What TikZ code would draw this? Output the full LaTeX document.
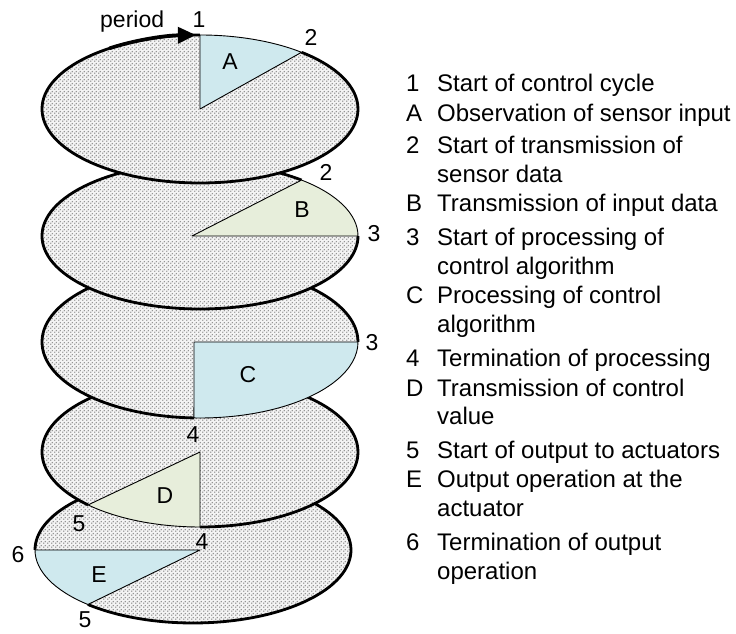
\documentclass[tikz,border=0pt]{standalone}
\usepackage{fontspec}
\setmainfont{Liberation Sans}
\usetikzlibrary{patterns,arrows.meta,calc}
\definecolor{phaseblue}{HTML}{CFE9EE}
\definecolor{phasegreen}{HTML}{E7EEDB}
% fine diagonal dot screen for the discs
\pgfdeclarepatternformonly{discdots}{\pgfpointorigin}{\pgfqpoint{3.5pt}{3.5pt}}{\pgfqpoint{3.5pt}{3.5pt}}{
  \pgfpathcircle{\pgfqpoint{0.875pt}{0.875pt}}{0.85pt}
  \pgfpathcircle{\pgfqpoint{2.625pt}{2.625pt}}{0.85pt}
  \pgfusepath{fill}}
\begin{document}
\begin{tikzpicture}[x=1pt,y=1pt,
  disc/.style={preaction={fill=gray!9}, pattern=discdots, pattern color=black!45},
  rim/.style={line width=2.8pt},
  phase/.style={draw=black, line width=0.9pt, line join=round},
  lbl/.style={font=\fontsize{23}{27}\selectfont, inner sep=0pt},
  keyid/.style={font=\fontsize{24}{29}\selectfont, inner sep=0pt, anchor=base west},
  keytext/.style={font=\fontsize{24}{29}\selectfont, inner sep=0pt, anchor=base west}]
\useasboundingbox (0,0) rectangle (736,634);

% ---- disc 5 (bottom): output operation E
\coordinate (c5) at (193,84);
\fill[disc] (c5) ellipse [x radius=158, y radius=73];
\draw[rim] (c5) ++(228.3:158 and 73) arc[start angle=228.3, end angle=540, x radius=158, y radius=73];
\coordinate (e4) at (200,84);
\coordinate (e6) at (35,84);
\draw[phase, fill=phaseblue] (e4) -- (e6) arc[start angle=180, end angle=228.3, x radius=158, y radius=73] -- cycle;

% ---- disc 4: transmission of control value D
\coordinate (c4) at (200,182);
\fill[disc] (c4) ellipse [x radius=158, y radius=75];
\draw[rim] (c4) ++(270:158 and 75) arc[start angle=270, end angle=584.9, x radius=158, y radius=75];
\coordinate (d4) at (200,182);
\coordinate (d4b) at (200,107);
\draw[phase, fill=phasegreen] (d4) -- (d4b) arc[start angle=270, end angle=224.9, x radius=158, y radius=75] -- cycle;

% ---- disc 3: processing C
\coordinate (c3) at (200,292);
\fill[disc] (c3) ellipse [x radius=158, y radius=76];
\draw[rim] (c3) ++(0:158 and 76) arc[start angle=0, end angle=267.8, x radius=158, y radius=76];
\coordinate (cc) at (194,292);
\coordinate (c33) at (358,292);
\draw[phase, fill=phaseblue] (cc) -- (c33) arc[start angle=0, end angle=-92.2, x radius=158, y radius=76] -- cycle;

% ---- disc 2: transmission of input data B
\coordinate (c2) at (200,398);
\fill[disc] (c2) ellipse [x radius=158, y radius=73];
\draw[rim] (c2) ++(50:158 and 73) arc[start angle=50, end angle=360, x radius=158, y radius=73];
\coordinate (bb) at (192,398);
\coordinate (b3) at (358,398);
\draw[phase, fill=phasegreen] (bb) -- (b3) arc[start angle=0, end angle=50, x radius=158, y radius=73] -- cycle;

% ---- disc 1 (top): observation A
\coordinate (c1) at (200,525);
\fill[disc] (c1) ellipse [x radius=158, y radius=74];
\draw[rim] (c1) ++(90:158 and 74) arc[start angle=90, end angle=410, x radius=158, y radius=74];
\coordinate (a1) at (200,599);
\draw[phase, fill=phaseblue] (c1) -- (a1) arc[start angle=90, end angle=50, x radius=158, y radius=74] -- cycle;
% period arrow along the rim
\draw[line width=3.6pt, -{Triangle[length=18pt,width=16pt]}] (c1) ++(125:158 and 74)
  arc[start angle=125, end angle=91.5, x radius=158, y radius=74];

% ---- labels on the discs
\node[lbl, anchor=base west] (lperiod) at (100,606) {period};
\node[lbl] (l1) at (199,614) {1};
\node[lbl] (l2a) at (311,597) {2};
\node[lbl] (lA) at (230,572) {A};
\node[lbl] (l2b) at (326,462) {2};
\node[lbl] (lB) at (302,424) {B};
\node[lbl] (l3a) at (374,400) {3};
\node[lbl] (l3b) at (372,291) {3};
\node[lbl] (lC) at (248,259) {C};
\node[lbl] (l4a) at (193,199) {4};
\node[lbl] (lD) at (165,138) {D};
\node[lbl] (l5a) at (79,110) {5};
\node[lbl] (l4b) at (202,92) {4};
\node[lbl] (l6) at (18,79) {6};
\node[lbl] (lE) at (99,59) {E};
\node[lbl] (l5b) at (85,14) {5};

% ---- legend
\node[keyid] (k1) at (406,542) {1};
\node[keytext] (t1) at (437,542) {Start of control cycle};
\node[keyid] (kA) at (406,512) {A};
\node[keytext] (tA) at (437,512) {Observation of sensor input};
\node[keyid] (k2) at (406,480) {2};
\node[keytext] (t2) at (437,480) {Start of transmission of};
\node[keytext] (t2b) at (437,451) {sensor data};
\node[keyid] (kB) at (406,422) {B};
\node[keytext] (tB) at (437,422) {Transmission of input data};
\node[keyid] (k3) at (406,388) {3};
\node[keytext] (t3) at (437,388) {Start of processing of};
\node[keytext] (t3b) at (437,359) {control algorithm};
\node[keyid] (kC) at (406,330) {C};
\node[keytext] (tC) at (437,330) {Processing of control};
\node[keytext] (tCb) at (437,301) {algorithm};
\node[keyid] (k4) at (406,267) {4};
\node[keytext] (t4) at (437,267) {Termination of processing};
\node[keyid] (kD) at (406,237) {D};
\node[keytext] (tD) at (437,237) {Transmission of control};
\node[keytext] (tDb) at (437,209) {value};
\node[keyid] (k5) at (406,175) {5};
\node[keytext] (t5) at (437,175) {Start of output to actuators};
\node[keyid] (kE) at (406,146) {E};
\node[keytext] (tE) at (437,146) {Output operation at the};
\node[keytext] (tEb) at (437,117) {actuator};
\node[keyid] (k6) at (406,83) {6};
\node[keytext] (t6) at (437,83) {Termination of output};
\node[keytext] (t6b) at (437,54) {operation};
\end{tikzpicture}
\end{document}
